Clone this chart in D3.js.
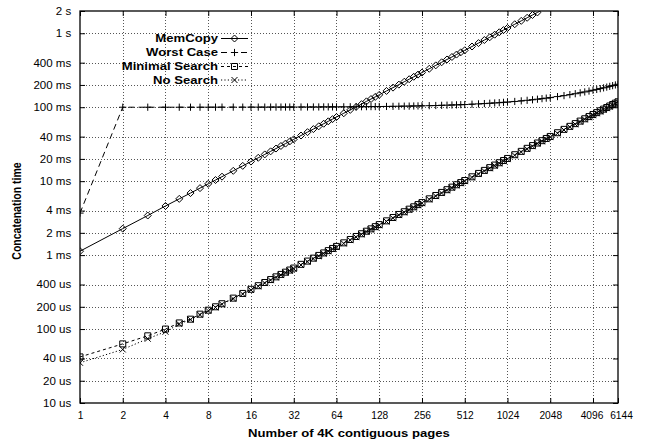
<!DOCTYPE html>
<html>
<head>
<meta charset="utf-8">
<script src="https://cdn.jsdelivr.net/npm/d3@7"></script>
<style>
  html, body { margin: 0; padding: 0; background: #fff; }
  svg { display: block; }
</style>
</head>
<body>
<svg id="chart" width="649" height="442"></svg>
<script>
// ---------------- DATA ----------------
const pages = [1,2,3,4,5,6,7,8,9,10,12,14,16,
  18,20,22,24,26,28,30,32,
  36,40,44,48,52,56,60,64,
  72,80,88,96,104,112,120,128,
  144,160,176,192,208,224,240,256,
  288,320,352,384,416,448,480,512,
  576,640,704,768,832,896,960,1024,
  1152,1280,1408,1536,1664,1792,1920,2048,
  2304,2560,2816,3072,3328,3584,3840,4096,
  4352,4608,4864,5120,5376,5632,5888,6144];

// MemCopy, milliseconds (goes off the top after ~1700 pages)
const memcopyMs = [1.13,2.28,3.43,4.62,5.76,6.9,8.05,9.2,10.35,11.5,13.8,16.1,18.4,
  20.7,23.0,25.3,27.6,29.9,32.2,34.5,36.8,
  41.4,46.0,50.6,55.2,59.8,64.4,69.0,73.6,
  82.8,92.0,101,110,120,129,138,147,
  166,184,202,221,239,258,276,294,
  331,368,405,442,478,515,552,589,
  662,736,810,883,957,1030,1104,1178,
  1325,1472,1619,1766,1914,2061];

// Worst Case, milliseconds
const worstMs = [3.7,100,100,100,100,100,100,100.1,100.1,100.2,100.2,100.2,100.3,
  100.3,100.3,100.4,100.4,100.4,100.5,100.5,100.5,
  100.6,100.7,100.7,100.8,100.9,101.0,101.0,101.1,
  101.2,101.4,101.5,101.6,101.8,101.9,102.0,102.2,
  102.4,102.7,103.0,103.3,103.5,103.8,104.1,104.4,
  104.9,105.4,106.0,106.5,107.1,107.6,108.2,108.7,
  109.8,110.9,112.0,113.1,114.1,115.2,116.3,117.4,
  119.6,121.8,123.9,126.1,128.3,130.5,132.6,134.8,
  139.2,143.5,147.9,152.2,156.6,160.9,165.3,169.6,
  174.0,178.3,182.7,187.0,191.4,195.7,200.1,204.4];

// Minimal Search, microseconds
const minimalUs = [42,63,81,100,121,136,159,180,200,220,262,303,345,
  386,426,467,508,548,588,628,668,
  750,830,910,990,1070,1150,1230,1310,
  1465,1625,1785,1945,2105,2265,2425,2585,
  2905,3225,3545,3860,4180,4500,4820,5130,
  5770,6400,7040,7670,8300,8940,9570,10200,
  11450,12720,13980,15240,16500,17750,19010,20270,
  22780,25280,27780,30280,32780,35280,37780,40240,
  45200,50160,55100,60000,64900,69800,74700,79600,
  84500,89400,94200,99000,103900,108700,113500,118300];

// No Search, microseconds
const noSearchUs = [35,53,74,92,117,134,156,177,196,216,257,297,338,
  378,418,458,498,537,576,615,655,
  735,813,892,970,1049,1127,1205,1284,
  1436,1593,1749,1906,2063,2220,2377,2533,
  2847,3161,3474,3783,4096,4410,4724,5027,
  5655,6272,6899,7517,8134,8761,9379,9996,
  11220,12470,13700,14940,16170,17400,18630,19860,
  22320,24770,27220,29670,32120,34570,37020,39440,
  44300,49160,54000,58800,63600,68400,73200,78000,
  82800,87600,92300,97000,101800,106500,111200,115900];

const xTickValues = [1,2,4,8,16,32,64,128,256,512,1024,2048,4096,6144];
const yTickValues = [2,1,0.4,0.2,0.1,0.04,0.02,0.01,0.004,0.002,0.001,0.0004,0.0002,0.0001,0.00004,0.00002,0.00001];
const yTickLabels = ["2 s","1 s","400 ms","200 ms","100 ms","40 ms","20 ms","10 ms","4 ms","2 ms","1 ms","400 us","200 us","100 us","40 us","20 us","10 us"];

const seriesNames = ["MemCopy","Worst Case","Minimal Search","No Search"];

// ---------------- BUILD ----------------
const toSeries = (vals, factor) => vals.map((v, i) => ({p: pages[i], t: v * factor}));
const series = [
  {name: seriesNames[0], data: toSeries(memcopyMs, 1e-3), dash: null, marker: "diamond"},
  {name: seriesNames[1], data: toSeries(worstMs, 1e-3), dash: "6,4", marker: "plus"},
  {name: seriesNames[2], data: toSeries(minimalUs, 1e-6), dash: "3,3", marker: "square"},
  {name: seriesNames[3], data: toSeries(noSearchUs, 1e-6), dash: "1.2,2.2", marker: "cross"}
];

const L = 80, R = 618, T = 11, B = 403;
const svg = d3.select("#chart");
const x = d3.scaleLog().base(2).domain([1, 6144]).range([L, R]);
const y = d3.scaleLog().domain([1e-5, 2]).range([B, T]);

const FONT = "'Liberation Sans', Arial, Helvetica, sans-serif";

// grid
const grid = svg.append("g").attr("stroke", "#555").attr("stroke-width", 1)
  .attr("stroke-dasharray", "1,2").attr("fill", "none");
grid.selectAll("line.gx").data(xTickValues.filter(v => v !== 1 && v !== 6144)).enter()
  .append("line").attr("x1", d => Math.round(x(d)) + 0.5).attr("x2", d => Math.round(x(d)) + 0.5)
  .attr("y1", T).attr("y2", B);
grid.selectAll("line.gy").data(yTickValues.filter(v => v !== 2 && v !== 1e-5)).enter()
  .append("line").attr("y1", d => Math.round(y(d)) + 0.5).attr("y2", d => Math.round(y(d)) + 0.5)
  .attr("x1", L).attr("x2", R);

// axes
const styleAxis = g => {
  g.select(".domain").remove();
  g.selectAll(".tick line").attr("stroke", "#000").attr("stroke-width", 1);
  g.attr("font-family", FONT).attr("font-size", 10.5);
  g.selectAll(".tick text").attr("fill", "#000");
};
const xAxis = svg.append("g").attr("transform", `translate(0,${B})`)
  .call(d3.axisBottom(x).tickValues(xTickValues).tickFormat(d => String(d)).tickSize(-5).tickPadding(9))
  .call(styleAxis);
xAxis.selectAll(".tick text").attr("font-size", 10.2)
  .attr("dx", d => d === 6144 ? 3 : (d === 4096 ? -1.5 : 0));

svg.append("g").attr("transform", `translate(0,${T})`)
  .call(d3.axisTop(x).tickValues(xTickValues).tickFormat("").tickSize(-5)).call(styleAxis);

const yAxis = svg.append("g").attr("transform", `translate(${L},0)`)
  .call(d3.axisLeft(y).tickValues(yTickValues).tickFormat((d, i) => yTickLabels[i]).tickSize(-5).tickPadding(8))
  .call(styleAxis);
yAxis.selectAll(".tick text").attr("transform", "scale(1.1,1)");

svg.append("g").attr("transform", `translate(${R},0)`)
  .call(d3.axisRight(y).tickValues(yTickValues).tickFormat("").tickSize(-5)).call(styleAxis);

// border
svg.append("rect").attr("x", L).attr("y", T).attr("width", R - L).attr("height", B - T)
  .attr("fill", "none").attr("stroke", "#000").attr("stroke-width", 1.3);

// clip
svg.append("clipPath").attr("id", "plotclip").append("rect")
  .attr("x", L).attr("y", T).attr("width", R - L).attr("height", B - T);

const markerPath = (type, r) => {
  switch (type) {
    case "diamond": return `M0,${-r}L${r},0L0,${r}L${-r},0Z`;
    case "plus": return `M${-r},0H${r}M0,${-r}V${r}`;
    case "square": return `M${-r},${-r}H${r}V${r}H${-r}Z`;
    case "cross": return `M${-r},${-r}L${r},${r}M${-r},${r}L${r},${-r}`;
  }
};
const markerSize = {diamond: 3.5, plus: 3.6, square: 3, cross: 3};

const line = d3.line().x(d => x(d.p)).y(d => y(d.t));
const plot = svg.append("g").attr("clip-path", "url(#plotclip)");

series.forEach(s => {
  plot.append("path").datum(s.data).attr("d", line)
    .attr("fill", "none").attr("stroke", "#000").attr("stroke-width", 1)
    .attr("stroke-dasharray", s.dash);
});
series.forEach(s => {
  plot.selectAll(null).data(s.data.filter(d => d.t <= 2)).enter().append("path")
    .attr("transform", d => `translate(${x(d.p)},${y(d.t)})`)
    .attr("d", markerPath(s.marker, markerSize[s.marker]))
    .attr("fill", "none").attr("stroke", "#000").attr("stroke-width", 1);
});

// legend
const legendY = [38.5, 52.5, 66.5, 80];
const leg = svg.append("g");
series.forEach((s, i) => {
  const yy = legendY[i];
  leg.append("text").attr("transform", `translate(218,${yy}) scale(1.25,1)`)
    .attr("text-anchor", "end").attr("dy", "0.36em")
    .attr("font-family", FONT).attr("font-weight", "bold").attr("font-size", 10.5)
    .text(s.name);
  leg.append("line").attr("x1", 221).attr("x2", 248).attr("y1", yy).attr("y2", yy)
    .attr("stroke", "#000").attr("stroke-width", 1).attr("stroke-dasharray", s.dash);
  leg.append("path").attr("transform", `translate(234.5,${yy})`)
    .attr("d", markerPath(s.marker, markerSize[s.marker]))
    .attr("fill", "none").attr("stroke", "#000").attr("stroke-width", 1);
});

// axis titles
svg.append("text").attr("transform", `translate(349,437) scale(1.25,1)`)
  .attr("text-anchor", "middle").attr("font-family", FONT).attr("font-weight", "bold")
  .attr("font-size", 10.5).text("Number of 4K contiguous pages");
svg.append("text").attr("transform", `translate(21,211) rotate(-90) scale(1,1.2)`)
  .attr("text-anchor", "middle").attr("font-family", FONT).attr("font-weight", "bold")
  .attr("font-size", 10.5).text("Concatenation time");
</script>
</body>
</html>
